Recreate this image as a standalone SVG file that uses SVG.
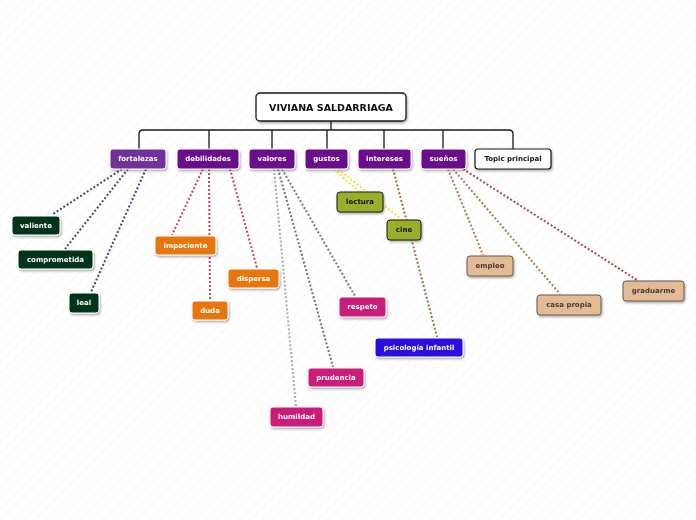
<svg xmlns="http://www.w3.org/2000/svg" width="696" height="520" viewBox="0 0 696 520">
<defs>
<pattern id="bg" width="8" height="8" patternUnits="userSpaceOnUse" patternTransform="rotate(45)">
<rect width="8" height="8" fill="#ffffff"/>
<line x1="0" y1="0" x2="0" y2="8" stroke="#efefef" stroke-width="1"/>
</pattern>
<filter id="sh" x="-20%" y="-30%" width="140%" height="170%">
<feDropShadow dx="1" dy="1.5" stdDeviation="0.8" flood-color="#000" flood-opacity="0.35"/>
</filter>
</defs>
<style>
text{font-family:"DejaVu Sans","Liberation Sans",sans-serif;font-weight:bold;text-anchor:middle;dominant-baseline:central}
.t1{font-size:7px;fill:#ffffff}
.t2{font-size:7px;fill:#ffffff}
.dk{fill:#4a3a30}
.bk{fill:#111111}
.n{filter:url(#sh)}
.p{fill:#6a0a8a;stroke:#ffffff;stroke-width:1}
.c{fill:none;stroke-width:2;stroke-dasharray:2 2}
.tree{fill:none;stroke:#1a1a1a;stroke-width:1.3}
</style>
<rect width="696" height="520" fill="url(#bg)"/>
<g id="connectors">
<path class="tree" d="M331 121V130 M139 149V134Q139 130 143 130H509Q513 130 513 134V149 M209 130V149 M272 130V149 M327 130V149 M384 130V149 M443 130V149"/>
<g stroke="#3e4a7a">
<line class="c" x1="122" y1="169" x2="53" y2="214"/>
<line class="c" x1="128" y1="169" x2="65" y2="249"/>
<line class="c" x1="146" y1="169" x2="91" y2="292"/>
</g>
<g stroke="#d0405a">
<line class="c" x1="203" y1="169" x2="172" y2="235"/>
<line class="c" x1="209" y1="169" x2="210" y2="300"/>
<line class="c" x1="230" y1="169" x2="257" y2="268"/>
</g>
<line class="c" stroke="#a0abbb" x1="274" y1="169" x2="296" y2="406"/>
<line class="c" stroke="#6c737b" x1="278" y1="169" x2="333" y2="367"/>
<line class="c" stroke="#7c7c7c" x1="282" y1="169" x2="355" y2="296"/>
<g stroke="#f0e040">
<line class="c" x1="334" y1="169" x2="358" y2="191"/>
<line class="c" x1="338" y1="169" x2="401" y2="219"/>
</g>
<line class="c" stroke="#a86a4a" x1="393" y1="169" x2="437" y2="337"/>
<line class="c" stroke="#b07a50" x1="448" y1="169" x2="483" y2="255"/>
<line class="c" stroke="#b07850" x1="453" y1="169" x2="560" y2="294"/>
<line class="c" stroke="#b04848" x1="463" y1="169" x2="637" y2="280"/>
</g>
<g id="root" class="n"><rect x="256" y="93" width="150" height="28" rx="4" fill="#ffffff" stroke="#1a1a1a" stroke-width="1.3"/><text x="331" y="107.5" class="bk" style="font-size:9.5px">VIVIANA SALDARRIAGA</text></g>
<g id="fortalezas" class="n"><rect x="110" y="149" width="56" height="20" rx="3" class="p" fill="#70309a" style="fill:#70309a"/><text x="138" y="159" class="t1">fortalezas</text></g>
<g id="debilidades" class="n"><rect x="177" y="149" width="62" height="20" rx="3" class="p"/><text x="208" y="159" class="t1">debilidades</text></g>
<g id="valores" class="n"><rect x="249" y="149" width="46" height="20" rx="3" class="p"/><text x="272" y="159" class="t1">valores</text></g>
<g id="gustos" class="n"><rect x="305" y="149" width="43" height="20" rx="3" class="p"/><text x="326.5" y="159" class="t1">gustos</text></g>
<g id="intereses" class="n"><rect x="358" y="149" width="53" height="20" rx="3" class="p"/><text x="384.5" y="159" class="t1">intereses</text></g>
<g id="suenos" class="n"><rect x="421" y="149" width="45" height="20" rx="3" class="p"/><text x="443.5" y="159" class="t1">sueños</text></g>
<g id="topic" class="n"><rect x="475" y="149" width="76" height="20" rx="3" fill="#ffffff" stroke="#1a1a1a" stroke-width="1.2"/><text x="513" y="159" class="bk" style="font-size:7px">Topic principal</text></g>
<g id="valiente" class="n"><rect x="12" y="216" width="48" height="19" rx="3" fill="#05341a" stroke="#ffffff"/><text x="36" y="225.5" class="t2">valiente</text></g>
<g id="comprometida" class="n"><rect x="18" y="250" width="75" height="19" rx="3" fill="#05341a" stroke="#ffffff"/><text x="55.5" y="259.5" class="t2">comprometida</text></g>
<g id="leal" class="n"><rect x="69" y="293" width="30" height="20" rx="3" fill="#05341a" stroke="#ffffff"/><text x="84" y="303" class="t2">leal</text></g>
<g id="impaciente" class="n"><rect x="155" y="236" width="61" height="19" rx="3" fill="#e8760f" stroke="#ffffff"/><text x="185.5" y="245.5" class="t2">impaciente</text></g>
<g id="duda" class="n"><rect x="192" y="301" width="36" height="19" rx="3" fill="#e8760f" stroke="#ffffff"/><text x="210" y="310.5" class="t2">duda</text></g>
<g id="dispersa" class="n"><rect x="228" y="269" width="51" height="19" rx="3" fill="#e8760f" stroke="#ffffff"/><text x="253.5" y="278.5" class="t2">dispersa</text></g>
<g id="respeto" class="n"><rect x="339" y="297" width="47" height="20" rx="3" fill="#cc1a7a" stroke="#ffffff"/><text x="362.5" y="307" class="t2">respeto</text></g>
<g id="prudencia" class="n"><rect x="308" y="368" width="56" height="19" rx="3" fill="#cc1a7a" stroke="#ffffff"/><text x="336" y="377.5" class="t2">prudencia</text></g>
<g id="humildad" class="n"><rect x="270" y="407" width="53" height="20" rx="3" fill="#cc1a7a" stroke="#ffffff"/><text x="296.5" y="417" class="t2">humildad</text></g>
<g id="lectura" class="n"><rect x="337" y="192" width="46" height="20" rx="3" fill="#9aae2a" stroke="#1a1a1a"/><text x="360" y="202" class="bk" style="font-size:7px">lectura</text></g>
<g id="cine" class="n"><rect x="387" y="220" width="34" height="20" rx="3" fill="#9aae2a" stroke="#1a1a1a"/><text x="404" y="230" class="bk" style="font-size:7px">cine</text></g>
<g id="psicologia" class="n"><rect x="375" y="338" width="88" height="19" rx="3" fill="#2b10e0" stroke="#ffffff"/><text x="419" y="347.5" class="t2">psicología infantil</text></g>
<g id="empleo" class="n"><rect x="467" y="256" width="46" height="20" rx="3" fill="#e3bb97" stroke="#6a5a4a"/><text x="490" y="266" class="dk" style="font-size:7px">empleo</text></g>
<g id="casapropia" class="n"><rect x="537" y="295" width="64" height="20" rx="3" fill="#e3bb97" stroke="#6a5a4a"/><text x="569" y="305" class="dk" style="font-size:7px">casa propia</text></g>
<g id="graduarme" class="n"><rect x="623" y="281" width="61" height="20" rx="3" fill="#e3bb97" stroke="#6a5a4a"/><text x="653.5" y="291" class="dk" style="font-size:7px">graduarme</text></g>
</svg>
